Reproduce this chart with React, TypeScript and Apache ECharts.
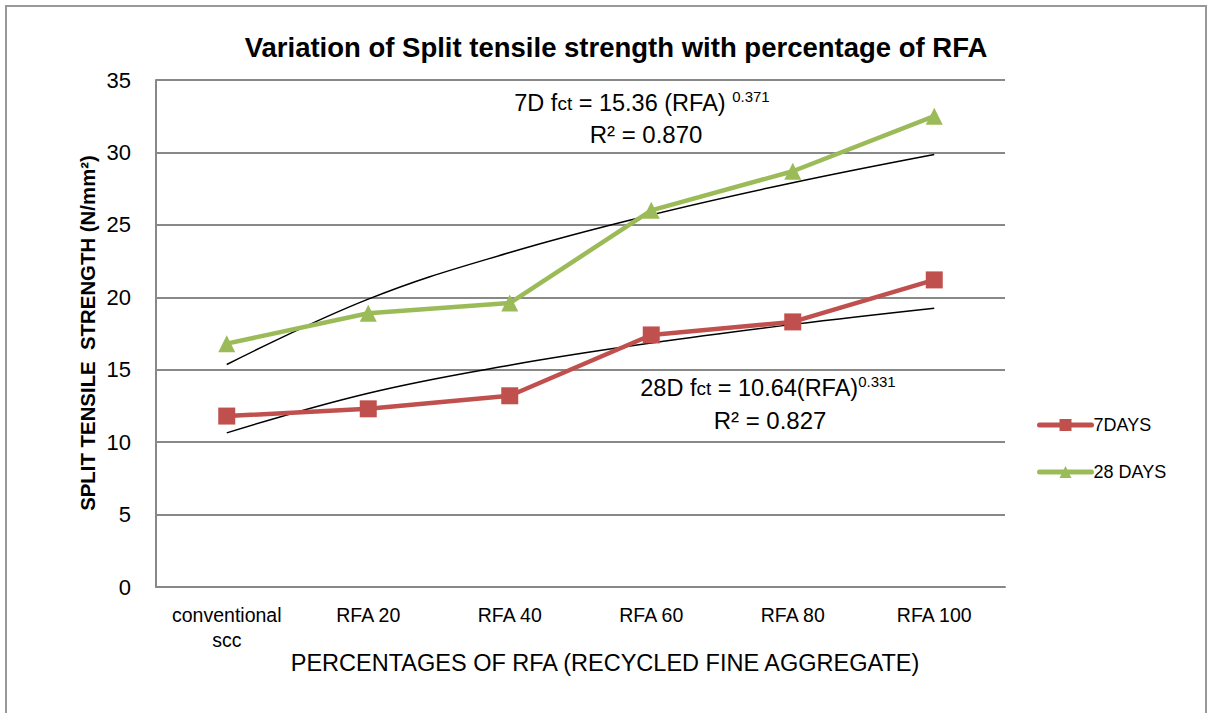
import React, { useEffect, useRef } from "react";
import * as echarts from "echarts";

const categories = ["conventional\nscc", "RFA 20", "RFA 40", "RFA 60", "RFA 80", "RFA 100"];
const days7 = [11.8, 12.3, 13.2, 17.4, 18.3, 21.2];
const days28 = [16.8, 18.9, 19.6, 26.0, 28.7, 32.5];
const trend28 = [15.36, 19.87, 23.09, 25.69, 27.91, 29.86];
const trend7 = [10.64, 13.38, 15.31, 16.84, 18.13, 19.25];
const yTicks = { min: 0, max: 35, interval: 5 };

const FONT = "'Liberation Sans Narrow', 'Arial Narrow', 'Liberation Sans', sans-serif";

export default function App() {
  const ref = useRef<HTMLDivElement>(null);
  useEffect(() => {
    if (!ref.current) return;
    const chart = echarts.init(ref.current, null, { renderer: "svg" });
    const rich = {
      a: { fontSize: 23.5, fontFamily: FONT, color: "#000", lineHeight: 30 },
      s: { fontSize: 19, fontFamily: FONT, color: "#000", lineHeight: 30 },
      sup: { fontSize: 15, fontFamily: FONT, color: "#000", lineHeight: 30, padding: [0, 0, 13, 0] },
    };
    chart.setOption({
      animation: false,
      backgroundColor: "#fff",
      textStyle: { fontFamily: FONT },
      title: {
        text: "Variation of Split tensile strength with percentage of RFA",
        left: 611,
        textAlign: "center",
        top: 28,
        textStyle: { fontSize: 27.5, fontWeight: "bold", color: "#000", fontFamily: FONT },
      },
      grid: { left: 156, right: 202, top: 80, bottom: 126, containLabel: false },
      legend: {
        orient: "vertical",
        left: 1032,
        top: 411,
        itemGap: 29,
        itemWidth: 52,
        itemHeight: 15,
        data: ["7DAYS", "28 DAYS"],
        lineStyle: { width: 5, cap: "round" },
        textStyle: { fontSize: 18, color: "#000", fontFamily: FONT, padding: [0, 0, 0, -3] },
      },
      xAxis: {
        type: "category",
        data: categories,
        boundaryGap: true,
        axisLine: { show: true, lineStyle: { color: "#888", width: 2 } },
        axisTick: { show: false },
        axisLabel: { interval: 0, fontSize: 19.5, color: "#000", margin: 15, lineHeight: 25, fontFamily: FONT },
        splitLine: { show: false },
      },
      yAxis: {
        type: "value",
        min: yTicks.min,
        max: yTicks.max,
        interval: yTicks.interval,
        axisLine: { show: true, lineStyle: { color: "#888", width: 2 } },
        axisTick: { show: false },
        axisLabel: { fontSize: 22, color: "#000", margin: 25, fontFamily: FONT },
        splitLine: { show: true, lineStyle: { color: "#888", width: 2 } },
      },
      series: [
        {
          name: "trend28",
          type: "line",
          data: trend28,
          smooth: 0.4,
          showSymbol: false,
          symbol: "none",
          lineStyle: { color: "#000", width: 1.5 },
          z: 3,
          silent: true,
        },
        {
          name: "trend7",
          type: "line",
          data: trend7,
          smooth: 0.4,
          showSymbol: false,
          symbol: "none",
          lineStyle: { color: "#000", width: 1.5 },
          z: 3,
          silent: true,
        },
        {
          name: "7DAYS",
          type: "line",
          data: days7,
          symbol: "rect",
          symbolSize: 17,
          itemStyle: { color: "#C0504D" },
          lineStyle: { color: "#C0504D", width: 4.5 },
          z: 4,
        },
        {
          name: "28 DAYS",
          type: "line",
          data: days28,
          symbol: "triangle",
          symbolSize: 17,
          itemStyle: { color: "#9BBB59" },
          lineStyle: { color: "#9BBB59", width: 4.5 },
          z: 4,
        },
      ],
      graphic: [
        {
          type: "rect",
          shape: { x: 6, y: 6, width: 1200, height: 720 },
          style: { fill: "none", stroke: "#999", lineWidth: 2 },
          silent: true,
        },
        {
          type: "text",
          x: 642,
          y: 103,
          style: {
            text: "{a|7D f}{s|ct}{a| = 15.36 (RFA) }{sup|0.371}",
            rich,
            align: "center",
            verticalAlign: "middle",
          },
        },
        {
          type: "text",
          x: 646,
          y: 134,
          style: {
            text: "R² = 0.870",
            font: `24px ${FONT}`,
            fill: "#000",
            align: "center",
            verticalAlign: "middle",
          },
        },
        {
          type: "text",
          x: 768,
          y: 388,
          style: {
            text: "{a|28D f}{s|ct}{a| = 10.64(RFA)}{sup|0.331}",
            rich,
            align: "center",
            verticalAlign: "middle",
          },
        },
        {
          type: "text",
          x: 770,
          y: 420,
          style: {
            text: "R² = 0.827",
            font: `24px ${FONT}`,
            fill: "#000",
            align: "center",
            verticalAlign: "middle",
          },
        },
        {
          type: "text",
          x: 605,
          y: 663,
          style: {
            text: "PERCENTAGES OF RFA (RECYCLED FINE AGGREGATE)",
            font: `23.5px ${FONT}`,
            fill: "#000",
            align: "center",
            verticalAlign: "middle",
          },
        },
        {
          type: "text",
          x: 88,
          y: 333,
          rotation: Math.PI / 2,
          style: {
            text: "SPLIT TENSILE  STRENGTH (N/mm²)",
            font: `bold 20.4px ${FONT}`,
            fill: "#000",
            align: "center",
            verticalAlign: "middle",
          },
        },
      ],
    });
    return () => chart.dispose();
  }, []);
  return (
    <div
      ref={ref}
      style={{ position: "fixed", left: 0, top: 0, width: 1207, height: 713 }}
    />
  );
}
